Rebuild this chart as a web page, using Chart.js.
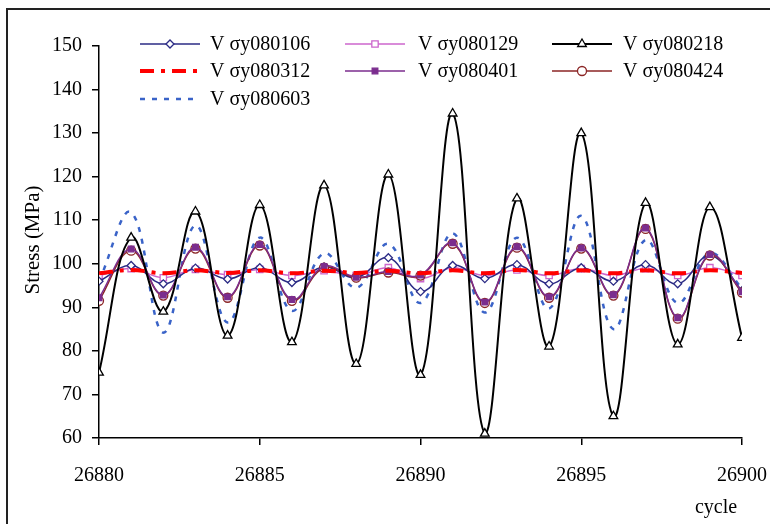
<!DOCTYPE html>
<html>
<head>
<meta charset="utf-8">
<script src="https://cdn.jsdelivr.net/npm/chart.js@4/dist/chart.umd.min.js"></script>
<style>
html,body{margin:0;padding:0;background:#fff;}
canvas{display:block;}
</style>
</head>
<body>
<canvas id="c" width="770" height="524"></canvas>
<script>
const cycles = [26880,26881,26882,26883,26884,26885,26886,26887,26888,26889,26890,26891,26892,26893,26894,26895,26896,26897,26898,26899,26900];
const s080106 = [96,99.6,95.4,99,96.5,99.1,95.7,99.3,96.8,101.4,93.6,99.6,96.6,99.8,95.4,99.1,96,99.8,95.4,101.9,93.8];
const s080129 = [97.3,98.9,96.8,98.7,97.5,98.7,97.3,98.4,97.3,99.1,96.6,99.1,97.3,98.6,97.3,98.9,97.3,98.9,97.3,99.1,97.3];
const s080218 = [75,106,89,112,83.5,113.5,82,118,77,120.5,74.5,134.5,61,115,81,130,65,114,81.5,113,83];
const s080312 = [97.8,98.6,97.8,98.5,97.9,98.5,97.8,98.4,97.9,98.4,97.8,98.5,97.8,98.6,97.8,98.5,97.8,98.5,97.8,98.5,97.9];
const s080401 = [92.2,103.4,92.8,103.8,92.4,104.4,91.8,99.4,96.9,98.2,97.4,104.8,91.2,103.9,92.4,103.6,92.9,108.2,87.6,102.1,93.6];
const s080424 = [91.5,103,92.7,103.5,92.2,104.2,91.5,99.1,96.8,98,97.3,104.6,91,103.7,92.2,103.5,92.7,108,87.4,101.9,93.4];
const s080603 = [96,111.8,84.2,108.8,86.5,106,89.2,102.4,94.5,104.6,91,107,88.8,106,89.7,111,85,105.5,91,102.4,94.3];
const seriesNames = ['V \u03c3y080106','V \u03c3y080129','V \u03c3y080218','V \u03c3y080312','V \u03c3y080401','V \u03c3y080424','V \u03c3y080603'];
const xTicks = [26880,26885,26890,26895,26900];
const yTitle = 'Stress (MPa)';
const xTitle = 'cycle';

const pts = arr => arr.map((v,i)=>({x:cycles[i], y:v}));

const styles = [
  {color:'#2B2B85', pointStyle:'rectRot', radius:4, bg:'#ffffff', width:1.5, dash:[]},
  {color:'#CC66CC', pointStyle:'rect', radius:4.5, bg:'#ffffff', width:1.5, dash:[]},
  {color:'#000000', pointStyle:'triangle', radius:5, bg:'#ffffff', width:2, dash:[]},
  {color:'#FF0000', pointStyle:false, radius:0, bg:'#FF0000', width:4, dash:[14,7,4,7]},
  {color:'#7B2D8E', pointStyle:'rect', radius:4, bg:'#7B2D8E', width:1.5, dash:[]},
  {color:'#8B2525', pointStyle:'circle', radius:4.5, bg:'#ffffff', width:1.5, dash:[]},
  {color:'#3A63C8', pointStyle:false, radius:0, bg:'#3A63C8', width:2.5, dash:[5,7]}
];
const allData = [s080106,s080129,s080218,s080312,s080401,s080424,s080603];
const drawOrder = [4,5,1,2,3,3.5,7];

const datasets = allData.map((arr,i)=>({
  label: seriesNames[i],
  data: pts(arr),
  borderColor: styles[i].color,
  backgroundColor: styles[i].bg,
  borderWidth: styles[i].width,
  borderDash: styles[i].dash,
  pointStyle: styles[i].pointStyle,
  pointRadius: styles[i].radius,
  pointBorderColor: styles[i].color,
  pointBackgroundColor: styles[i].bg,
  pointBorderWidth: 1.3,
  tension: 0.4,
  fill: false,
  order: drawOrder[i]
}));

const serif = '"Liberation Serif","Times New Roman",serif';

const decor = {
  id:'decor',
  afterDraw(chart){
    const ctx = chart.ctx;
    ctx.save();
    ctx.strokeStyle = '#222';
    ctx.lineWidth = 2;
    ctx.beginPath();
    ctx.moveTo(7, 530);
    ctx.lineTo(7, 9);
    ctx.lineTo(780, 9);
    ctx.stroke();
    ctx.fillStyle = '#000';
    ctx.font = '21px ' + serif;
    ctx.textAlign = 'center';
    ctx.textBaseline = 'middle';
    ctx.save();
    ctx.translate(33, 240);
    ctx.rotate(-Math.PI/2);
    ctx.fillText(yTitle, 0, 0);
    ctx.restore();
    ctx.font = '20px ' + serif;
    ctx.fillText(xTitle, 716, 508);
    const cols = [{lx:140, tx:210},{lx:345, tx:418},{lx:552, tx:623}];
    const rows = [44, 71, 99];
    seriesNames.forEach((name,i)=>{
      const c = cols[i%3], y = rows[Math.floor(i/3)];
      const st = styles[i];
      ctx.strokeStyle = st.color;
      ctx.lineWidth = st.width;
      ctx.setLineDash(st.dash);
      ctx.beginPath();
      ctx.moveTo(c.lx, y);
      ctx.lineTo(c.lx+60, y);
      ctx.stroke();
      ctx.setLineDash([]);
      if (st.pointStyle) {
        ctx.fillStyle = st.bg;
        ctx.strokeStyle = st.color;
        ctx.lineWidth = 1.3;
        Chart.helpers.drawPoint(ctx, {pointStyle: st.pointStyle, radius: st.radius, borderWidth:1.3, rotation:0}, c.lx+30, y);
      }
      ctx.fillStyle = '#000';
      ctx.font = '20px ' + serif;
      ctx.textAlign = 'left';
      ctx.textBaseline = 'middle';
      ctx.fillText(name, c.tx, y+1);
    });
    ctx.restore();
  }
};

new Chart(document.getElementById('c'), {
  type: 'line',
  data: { datasets },
  options: {
    responsive: false,
    animation: false,
    devicePixelRatio: 1,
    layout: { padding: { top: 46, right: 28, left: 0, bottom: 0 } },
    plugins: { legend: { display: false }, tooltip: { enabled: false } },
    scales: {
      x: {
        type: 'linear',
        min: 26880, max: 26900,
        afterBuildTicks: s => { s.ticks = xTicks.map(v=>({value:v})); },
        afterFit: s => { s.height = 86; s.paddingLeft = 0; s.paddingRight = 0; },
        grid: { drawOnChartArea: false, drawTicks: true, tickLength: 7, color: '#000', lineWidth: 1.5 },
        border: { display: true, color: '#000', width: 1.5 },
        ticks: { color: '#000', font: { family: serif, size: 20 }, padding: 19, maxRotation: 0, callback: v => String(v) }
      },
      y: {
        min: 60, max: 150,
        afterFit: s => { s.width = 99; s.paddingTop = 0; s.paddingBottom = 0; },
        grid: { drawOnChartArea: false, drawTicks: true, tickLength: 7, color: '#000', lineWidth: 1.5 },
        border: { display: true, color: '#000', width: 1.5 },
        ticks: { stepSize: 10, color: '#000', font: { family: serif, size: 20 }, padding: 10 }
      }
    }
  },
  plugins: [decor]
});
</script>
</body>
</html>
